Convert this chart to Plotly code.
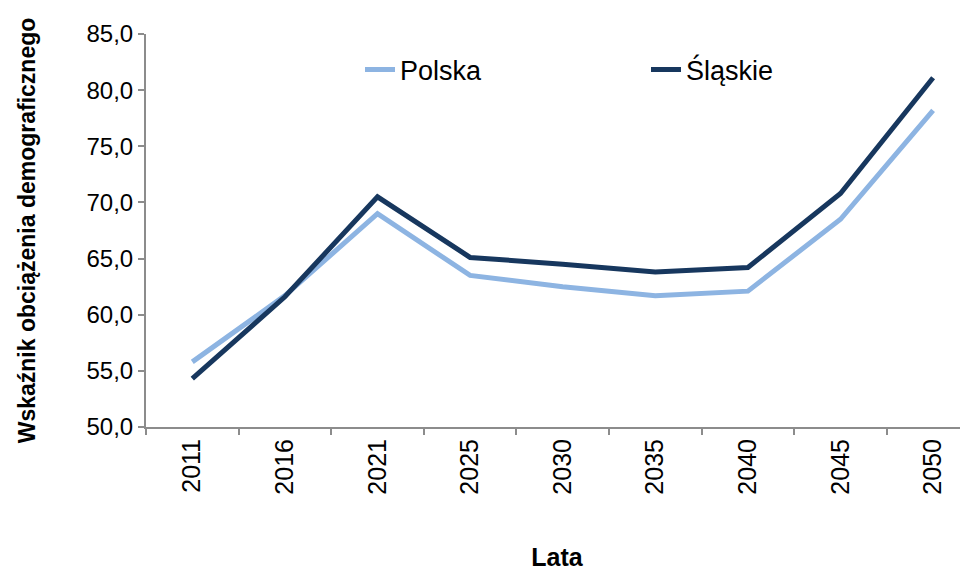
import plotly.graph_objects as go

years = ["2011", "2016", "2021", "2025", "2030", "2035", "2040", "2045", "2050"]
polska = [55.8, 61.7, 69.0, 63.5, 62.5, 61.7, 62.1, 68.5, 78.2]
slaskie = [54.3, 61.6, 70.5, 65.1, 64.5, 63.8, 64.2, 70.8, 81.1]

FONT = "Liberation Sans, Arial, sans-serif"

fig = go.Figure()
fig.add_trace(go.Scatter(x=years, y=polska, name="Polska", mode="lines",
                         line=dict(color="#8DB4E2", width=5), legend="legend"))
fig.add_trace(go.Scatter(x=years, y=slaskie, name="Śląskie", mode="lines",
                         line=dict(color="#17375E", width=5), legend="legend2"))

# page has an 8px body margin
OFF = 8
W, H = 968 - OFF, 571 - OFF
L, T, B, R = 146 - OFF, 34 - OFF, 144, 0
pw = W - L - R
ph = H - T - B

def px_x(x):
    return (x - OFF - L) / pw

def px_y(y):
    return 1 - (y - OFF - T) / ph

legend_common = dict(orientation="h", yanchor="middle", xanchor="left",
                     bgcolor="rgba(0,0,0,0)", font=dict(family=FONT, size=27, color="#000"),
                     itemwidth=30)

fig.update_layout(
    width=W, height=H,
    margin=dict(l=L, r=R, t=T, b=B, autoexpand=False),
    plot_bgcolor="white", paper_bgcolor="white",
    separators=", ",
    showlegend=True,
    legend=dict(x=px_x(360), y=px_y(70), **legend_common),
    legend2=dict(x=px_x(646), y=px_y(70), **legend_common),
    xaxis=dict(
        type="category", range=[-0.5, 8.377], automargin=False,
        showline=True, linecolor="#8C8C8C", linewidth=2,
        ticks="outside", tickson="boundaries", ticklen=6, tickcolor="#8C8C8C", tickwidth=1.5,
        tickangle=-90, tickfont=dict(family=FONT, size=25, color="#000"),
        showgrid=False, zeroline=False,
        title=dict(text="<b>Lata</b>", font=dict(family=FONT, size=25, color="#000"), standoff=55),
    ),
    yaxis=dict(
        range=[50, 85], dtick=5, tickformat=".1f", automargin=False,
        showline=True, linecolor="#8C8C8C", linewidth=2,
        ticks="outside", ticklen=6, tickcolor="#8C8C8C", tickwidth=1.5,
        tickfont=dict(family=FONT, size=24, color="#000"),
        showgrid=False, zeroline=False,
        title=dict(text="<b>Wskaźnik obciążenia demograficznego</b>",
                   font=dict(family=FONT, size=23, color="#000"), standoff=44),
    ),
)

fig.write_html("out.html")
